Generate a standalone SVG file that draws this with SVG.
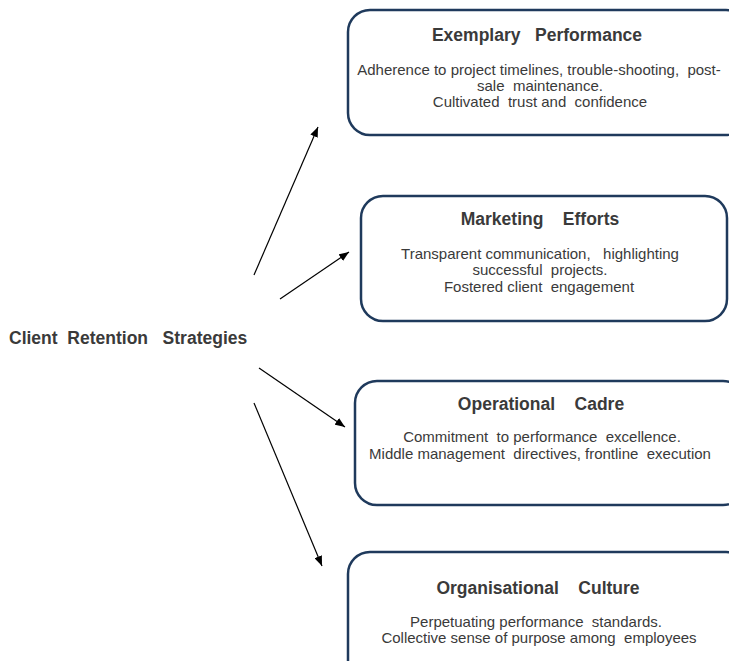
<svg xmlns="http://www.w3.org/2000/svg" width="729" height="661" viewBox="0 0 729 661">
<defs>
<style>
.box{fill:#fff;stroke:#1f3a5c;stroke-width:2.5}
.t{font-family:"Liberation Sans",Arial,sans-serif;fill:#3a3a3a;white-space:pre}
.h{font-size:17.5px;font-weight:bold;text-anchor:middle}
.b{font-size:15px;text-anchor:middle}
.c{stroke:#000;stroke-width:1.2;fill:none;marker-end:url(#ah)}
</style>
<marker id="ah" viewBox="0 0 10 8" refX="10" refY="4" markerWidth="10" markerHeight="8" markerUnits="userSpaceOnUse" orient="auto">
<path d="M0,0 L10,4 L0,8 Z" fill="#000"/>
</marker>
</defs>
<rect width="729" height="661" fill="#fff"/>
<g id="connectors">
<line class="c" x1="254" y1="275" x2="318" y2="127"/>
<line class="c" x1="280" y1="299" x2="349" y2="252"/>
<line class="c" x1="259" y1="368" x2="345" y2="427"/>
<line class="c" x1="254" y1="403" x2="322" y2="566"/>
</g>
<g id="root">
<text class="t" x="9" y="344" style="font-size:17.5px;font-weight:bold">Client  Retention   Strategies</text>
</g>
<g id="exemplary">
<rect class="box" x="348" y="10" width="400" height="125" rx="22"/>
<text class="t h" x="537" y="41">Exemplary   Performance</text>
<text class="t b" x="539" y="75">Adherence to project timelines, trouble-shooting,  post-</text>
<text class="t b" x="540" y="91">sale  maintenance.</text>
<text class="t b" x="540" y="107">Cultivated  trust and  confidence</text>
</g>
<g id="marketing">
<rect class="box" x="361" y="196" width="366" height="125" rx="22"/>
<text class="t h" x="540" y="225">Marketing    Efforts</text>
<text class="t b" x="540" y="259">Transparent communication,   highlighting</text>
<text class="t b" x="540" y="275">successful  projects.</text>
<text class="t b" x="539" y="292">Fostered client  engagement</text>
</g>
<g id="operational">
<rect class="box" x="355" y="381" width="390" height="124" rx="22"/>
<text class="t h" x="541" y="410">Operational    Cadre</text>
<text class="t b" x="542" y="442">Commitment  to performance  excellence.</text>
<text class="t b" x="540" y="459">Middle management  directives, frontline  execution</text>
</g>
<g id="culture">
<rect class="box" x="348" y="552" width="400" height="130" rx="22"/>
<text class="t h" x="538" y="594">Organisational    Culture</text>
<text class="t b" x="536" y="627">Perpetuating performance  standards.</text>
<text class="t b" x="539" y="643">Collective sense of purpose among  employees</text>
</g>
</svg>
